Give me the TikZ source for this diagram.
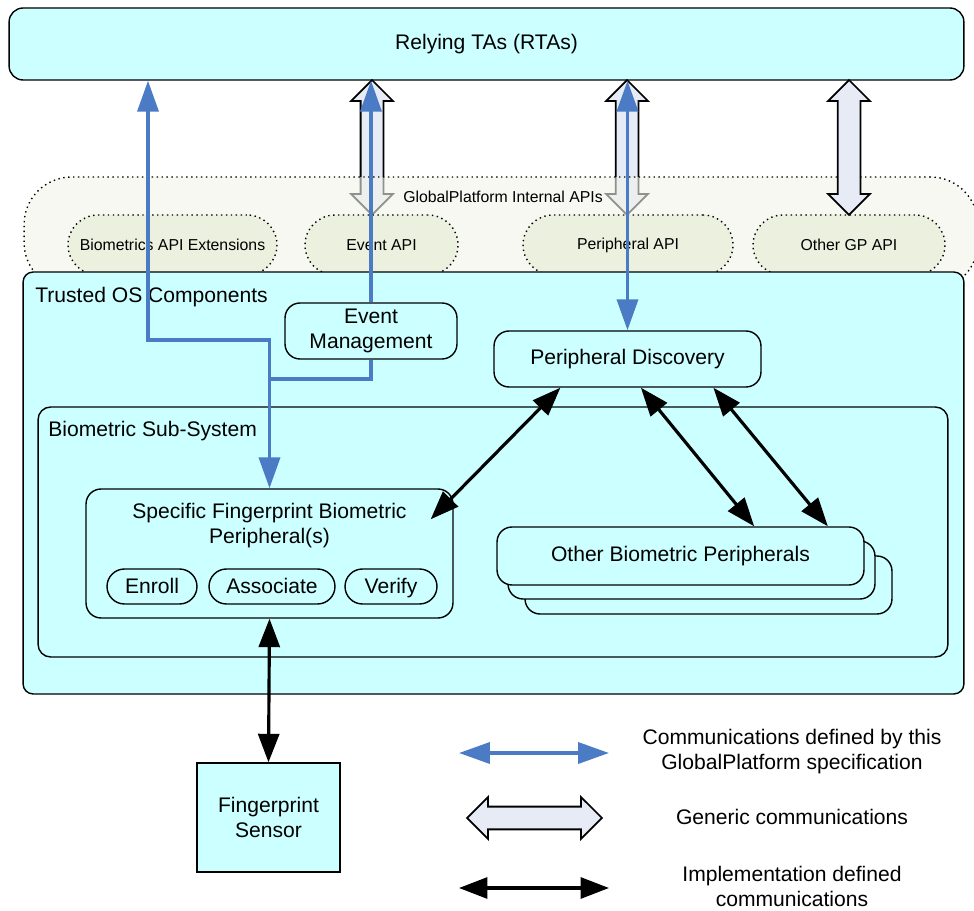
\documentclass[tikz,border=0pt]{standalone}
\usepackage{fontspec}
\setmainfont{Liberation Sans}
\usetikzlibrary{arrows.meta}
\usetikzlibrary{shapes.arrows}
\usetikzlibrary{calc}

\definecolor{boxcyan}{HTML}{CCFFFF}
\definecolor{genfill}{HTML}{E6EBF5}
\definecolor{bandfill}{HTML}{F0F3E8}
\definecolor{apifill}{HTML}{EBF0DF}
\definecolor{gpblue}{HTML}{4A7BC4}

\tikzset{
  txt/.style={font=\fontsize{12}{14.2}\selectfont, align=center},
  box/.style={draw, line width=0.8pt, fill=boxcyan, rounded corners=0.3cm, inner sep=0pt, txt},
  pill/.style={box, rounded corners=0.35cm, minimum height=0.7cm, text height=8.8pt, text depth=0.4pt},
  band/.style={draw, dotted, line width=0.8pt, fill=bandfill, fill opacity=0.6, rounded corners=0.95cm},
  apibox/.style={draw, dotted, line width=0.8pt, fill=apifill, rounded corners=0.6cm, minimum height=1.2cm, font=\fontsize{9}{11}\selectfont},
  genarrow/.style={draw, line width=1pt, fill=genfill, shape=double arrow, shape border rotate=90, double arrow tip angle=90, double arrow head extend=0.19cm, inner sep=0.21cm, minimum width=0.8cm},
  gplink/.style={draw=gpblue, line width=2.1pt},
  implink/.style={draw=black, line width=1.8pt},
  gptip/.tip={Triangle[length=0.62cm, width=0.42cm]},
  imptip/.tip={Triangle[length=0.57cm, width=0.42cm]}
}

\begin{document}
\begin{tikzpicture}[x=0.02cm, y=-0.02cm]
  \useasboundingbox (0,0) rectangle (974,911);

  % relying TAs
  \node[box, rounded corners=0.28cm, minimum width=19.1cm, minimum height=1.44cm] (rta) at (486.5,44) {Relying TAs (RTAs)};

  % generic communications that pass under the API band
  \node[genarrow, minimum height=2.7cm] (gev) at (372,147.5) {};
  \node[genarrow, minimum height=2.7cm] (gper) at (627,147.5) {};

  % GlobalPlatform internal APIs
  \node[band, minimum width=19.08cm, minimum height=2.26cm] (gpapi) at (501,233.5) {};
  \node[font=\fontsize{9}{11}\selectfont] (gpapilbl) at (503,197) {GlobalPlatform Internal APIs};
  \node[apibox, minimum width=4.18cm] (apibio) at (172.5,245) {Biometrics API Extensions};
  \node[apibox, minimum width=3.06cm] (apiev) at (381.5,245) {Event API};
  \node[apibox, minimum width=4.2cm] (apiper) at (628,245) {Peripheral API};
  \node[apibox, minimum width=3.84cm] (apioth) at (849,245) {Other GP API};
  \node[genarrow, minimum height=2.7cm] (goth) at (849,147.5) {};

  % trusted OS
  \node[box, rounded corners=0.2cm, minimum width=18.82cm, minimum height=8.44cm] (os) at (493.5,483) {};
  \node[txt, anchor=base west, inner sep=0pt] (oslbl) at (35,303) {Trusted OS Components};
  \node[box, minimum width=3.44cm, minimum height=1.12cm] (evm) at (371,331) {Event\\Management};
  \node[box, minimum width=5.34cm, minimum height=1.12cm] (pdisc) at (627.5,359) {Peripheral Discovery};

  % biometric sub-system
  \node[box, rounded corners=0.25cm, minimum width=18.2cm, minimum height=5cm] (bss) at (493,532) {};
  \node[txt, anchor=base west, inner sep=0pt] (bsslbl) at (48,437) {Biometric Sub-System};
  \node[box, minimum width=7.34cm, minimum height=2.58cm] (sfp) at (269.5,553.5) {};
  \node[txt, anchor=north, inner sep=0pt] (sfplbl) at ([yshift=-0.3cm]sfp.north) {Specific Fingerprint Biometric\\Peripheral(s)};
  \node[pill, minimum width=1.8cm] (enroll) at (152,586.5) {Enroll};
  \node[pill, minimum width=2.52cm] (assoc) at (272,586.5) {Associate};
  \node[pill, minimum width=1.84cm] (verify) at (391,586.5) {Verify};
  \node[box, minimum width=7.34cm, minimum height=1.16cm] (oth3) at (708.5,585) {};
  \node[box, minimum width=7.34cm, minimum height=1.16cm] (oth2) at (691.5,570) {};
  \node[box, minimum width=7.34cm, minimum height=1.16cm] (oth) at (680.5,556) {Other Biometric Peripherals};

  \node[box, rounded corners=0pt, minimum width=2.86cm, minimum height=2.18cm] (sensor) at (268.5,817.5) {Fingerprint\\Sensor};

  % GP defined links
  \coordinate (b1) at (148,340);
  \coordinate (j1) at (269.5,379);
  \draw[gplink, {gptip}-{gptip}] (rta.south -| b1) -- (b1) -| (sfp.north);
  \draw[gplink, -{gptip}] (evm.north) -- (rta.south -| evm.north);
  \draw[gplink] (evm.south) |- (j1);
  \draw[gplink, {gptip}-{gptip}] (pdisc.north) -- (rta.south -| pdisc.north);

  % implementation defined links
  \draw[implink, {imptip}-{imptip}] ($(pdisc.south west)!0.25!(pdisc.south east)$) -- ([xshift=-0.46cm, yshift=-0.62cm]sfp.north east);
  \draw[implink, {imptip}-{imptip}] ($(pdisc.south west)!0.55!(pdisc.south east)$) -- ($(oth.north west)!0.70!(oth.north east)$);
  \draw[implink, {imptip}-{imptip}] ($(pdisc.south west)!0.82!(pdisc.south east)$) -- ($(oth.north west)!0.90!(oth.north east)$);
  \draw[implink, {imptip}-{imptip}] (sfp.south) -- (sensor.north);

  % legend
  \coordinate (lg1a) at (459,753);
  \coordinate (lg1b) at (609,753);
  \coordinate (lg3a) at (459,888);
  \coordinate (lg3b) at (609,888);
  \draw[gplink, {gptip}-{gptip}] (lg1a) -- (lg1b);
  \node[genarrow, shape border rotate=0, minimum height=2.7cm] (lg2) at (534.5,818) {};
  \draw[implink, {imptip}-{imptip}] (lg3a) -- (lg3b);
  \node[txt] (lt1) at (792,752) {Communications defined by this\\GlobalPlatform specification};
  \node[txt] (lt2) at (792,817) {Generic communications};
  \node[txt] (lt3) at (792,886) {Implementation defined\\communications};
\end{tikzpicture}
\end{document}
